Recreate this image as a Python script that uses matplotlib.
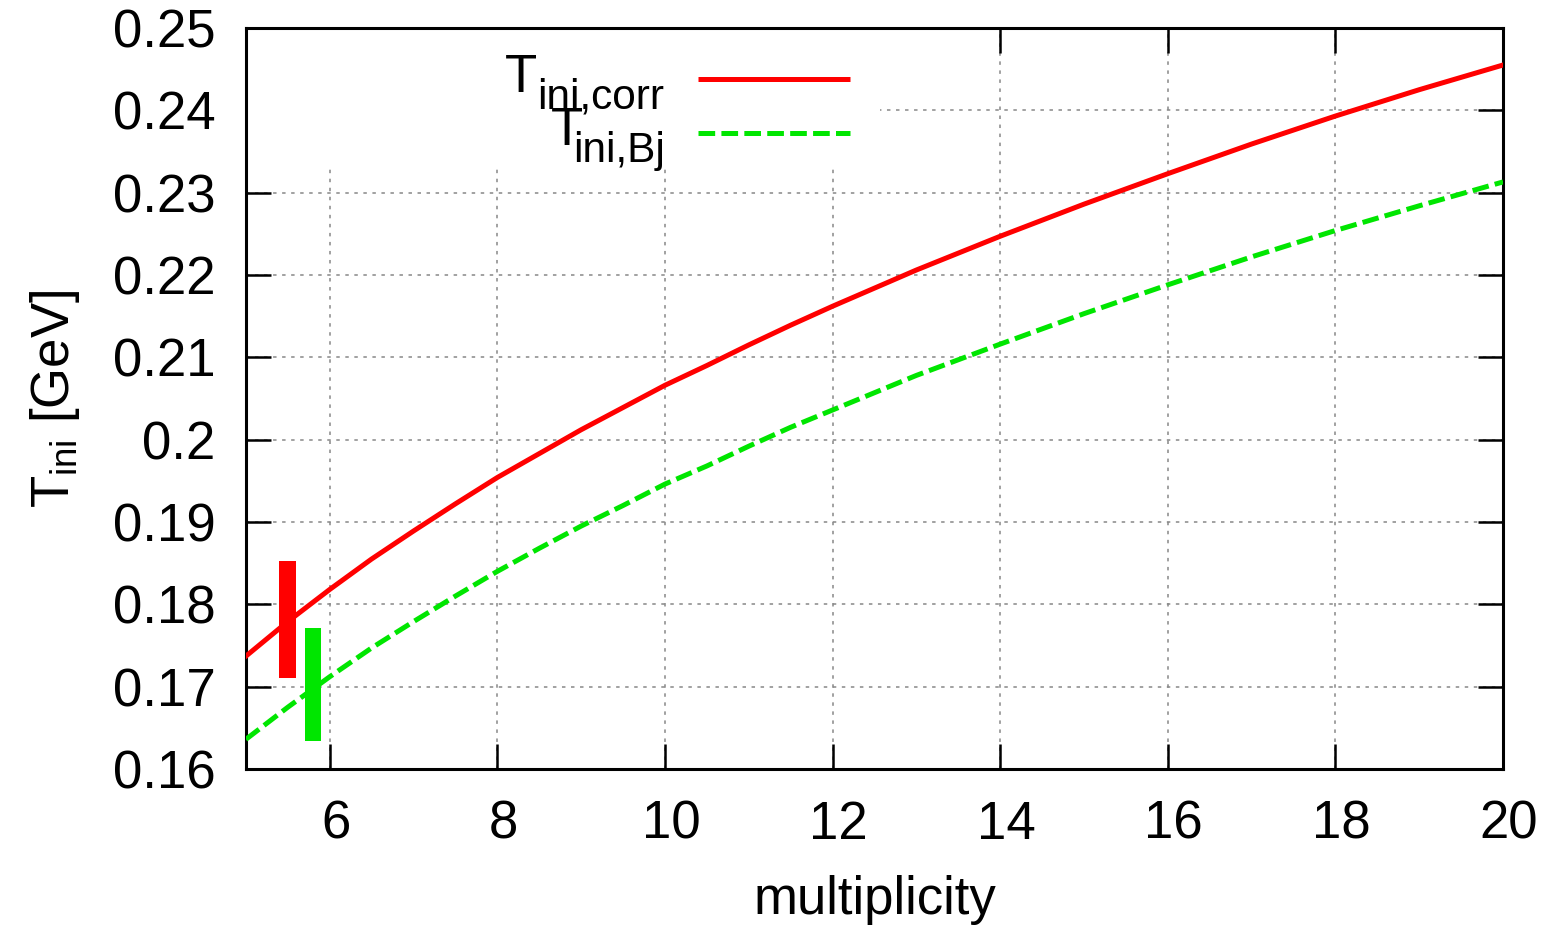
import matplotlib
matplotlib.use("Agg")
import matplotlib.pyplot as plt
from matplotlib.patches import Rectangle
from matplotlib.ticker import FuncFormatter
from matplotlib.transforms import ScaledTranslation

plt.rcParams['font.family'] = ['Liberation Sans', 'DejaVu Sans']
plt.rcParams['mathtext.fontset'] = 'custom'
plt.rcParams['mathtext.rm'] = 'Liberation Sans'
plt.rcParams['mathtext.it'] = 'Liberation Sans'
plt.rcParams['lines.scale_dashes'] = False

# multiplicity vs initial temperature
mult = [5, 5.5, 6, 6.5, 7, 7.5, 8, 8.5, 9, 9.5, 10, 10.5, 11, 11.5, 12,
        13, 14, 15, 16, 17, 18, 19, 20]
t_corr = [0.1737, 0.1779, 0.1818, 0.1855, 0.1889, 0.1922, 0.1954, 0.1983,
          0.2012, 0.2039, 0.2066, 0.2090, 0.2115, 0.2139, 0.2162,
          0.2206, 0.2247, 0.2286, 0.2323, 0.2359, 0.2393, 0.2425, 0.2455]
t_bj = [0.1636, 0.1675, 0.1712, 0.1747, 0.1779, 0.1810, 0.1840, 0.1868,
        0.1895, 0.1920, 0.1946, 0.1968, 0.1992, 0.2015, 0.2036,
        0.2078, 0.2116, 0.2153, 0.2188, 0.2222, 0.2254, 0.2284, 0.2313]

# the two vertical bands near multiplicity 5.5
band_x = [5.5, 5.8]
band_lo = [0.1710, 0.1634]
band_hi = [0.1853, 0.1771]
band_colors = ["#ff0000", "#00e600"]

xticks = [6, 8, 10, 12, 14, 16, 18, 20]
yticks = [0.16, 0.17, 0.18, 0.19, 0.20, 0.21, 0.22, 0.23, 0.24, 0.25]

W, H = 1556, 931
fig = plt.figure(figsize=(W / 100, H / 100), dpi=100)
ax = fig.add_axes([0.158, 0.174, 0.808, 0.796])

fs = 38
sub = 30.5
ax.set_axisbelow(True)
ax.grid(True, color="#888888", linestyle=(0, (2.5, 4)), linewidth=1.1)

# white area behind the key
ax.add_patch(Rectangle((0, 0.8124), 0.504, 0.19, transform=ax.transAxes,
                       facecolor="white", edgecolor="none", zorder=1))

ax.plot(mult, t_corr, color="#ff0000", linewidth=3.6, zorder=3)
ax.plot(mult, t_bj, color="#00e600", linewidth=3.6, dashes=(12, 4.5), zorder=3)

heights = [h - l for h, l in zip(band_hi, band_lo)]
ax.bar(band_x, heights, bottom=band_lo, width=0.2, color=band_colors, zorder=4)

ax.set_xlim(5, 20)
ax.set_ylim(0.16, 0.25)
ax.set_xticks(xticks)
ax.set_yticks(yticks)
ax.yaxis.set_major_formatter(FuncFormatter(lambda v, p: f"{round(v, 3):g}"))
ax.tick_params(direction="in", length=18, width=1.8, labelsize=fs,
               top=True, right=True)
ax.tick_params(axis="x", pad=22)
ax.tick_params(axis="y", pad=22)
for s in ax.spines.values():
    s.set_linewidth(2.2)

shift = ScaledTranslation(6 / 100, 0, fig.dpi_scale_trans)
for lab in ax.get_xticklabels():
    lab.set_transform(lab.get_transform() + shift)

ax.set_xlabel("multiplicity", fontsize=fs, labelpad=18)
ax.set_ylabel(r"$T_{\mathrm{ini}}$ [GeV]", fontsize=fs, labelpad=22)


def fx(px):
    return px / W


def fy(py):
    return 1 - py / H


# key
fig.text(fx(505), fy(92), "T", fontsize=fs, ha="left", va="baseline")
fig.text(fx(537), fy(108), "ini,corr", fontsize=sub, ha="left", va="baseline")
fig.text(fx(551), fy(145), "T", fontsize=fs, ha="left", va="baseline")
fig.text(fx(573), fy(162), "ini,Bj", fontsize=sub, ha="left", va="baseline")
ax.plot([0.36, 0.4805], [0.931, 0.931], transform=ax.transAxes,
        color="#ff0000", linewidth=3.6, solid_capstyle="butt")
ax.plot([0.36, 0.4805], [0.858, 0.858], transform=ax.transAxes,
        color="#00e600", linewidth=3.6, dashes=(12, 4.5), dash_capstyle="butt")

fig.savefig("out.png", dpi=100)
